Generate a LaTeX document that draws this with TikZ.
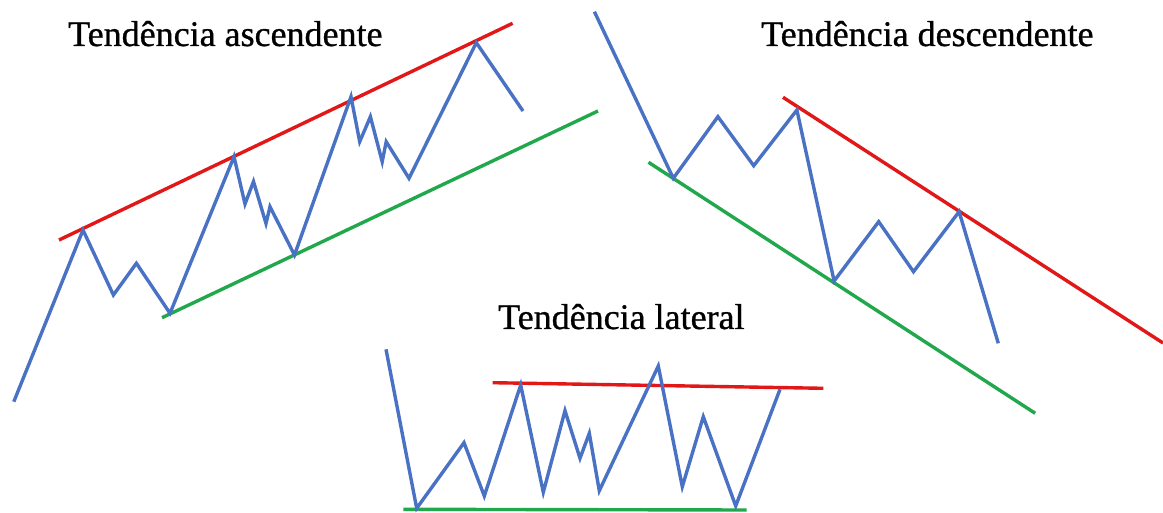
\documentclass[tikz,border=0pt]{standalone}
\usepackage{fontspec}
\setmainfont{Liberation Serif}
\newfontfamily\titlefont[FakeBold=0.8]{Liberation Serif}
\definecolor{pblue}{RGB}{74,114,196}
\definecolor{pred}{RGB}{226,24,24}
\definecolor{pgreen}{RGB}{34,168,76}
\begin{document}
\begin{tikzpicture}[x=1pt,y=-1pt,
  price/.style={draw=pblue,line width=3.4pt,line join=miter,line cap=butt},
  resist/.style={draw=pred,line width=3.4pt},
  support/.style={draw=pgreen,line width=3.4pt},
  title/.style={font=\titlefont\fontsize{36}{40}\selectfont,inner sep=0pt,anchor=base west}]
\useasboundingbox[fill=white] (0,0) rectangle (1163,513);
% titles
\node[title] (tasc) at (68,46) {Tendência ascendente};
\node[title] (tdesc) at (761,46) {Tendência descendente};
\node[title] (tlat) at (498,329) {Tendência lateral};
% ascending
\draw[resist] (59,240) -- (512.6,23.3);
\draw[support] (162,317.7) -- (598,111);
\draw[price] (13.8,401.7) -- (83,230) -- (113.4,295) -- (136.4,263.3) -- (170,313.3)
  -- (234,156.7) -- (245,204) -- (253.5,181.5) -- (266,223.5) -- (270,206.7)
  -- (294.5,255) -- (351,96.7) -- (359.7,141.7) -- (370.4,116.7) -- (382.2,161.7)
  -- (386.2,141.7) -- (409,178.3) -- (476.3,42.7) -- (523,111);
% descending
\draw[resist] (783,97.3) -- (1163,343);
\draw[support] (648.5,162.3) -- (1035.2,413.3);
\draw[price] (594.4,11.7) -- (673.3,178.3) -- (717.9,116.7) -- (753.7,165.7)
  -- (796.9,110) -- (834.1,281) -- (878.7,221.7) -- (913.5,271.7)
  -- (959.1,211.7) -- (998.3,343.3);
% lateral
\draw[resist] (492.7,382.7) -- (823.3,388.3);
\draw[support] (403.3,509.3) -- (746.7,510);
\draw[price] (386,349.3) -- (416.7,508.3) -- (464,442.7) -- (484.3,496)
  -- (520.7,385) -- (543.3,492.3) -- (565,410.7) -- (580,458.3) -- (589.3,433.3)
  -- (599.3,490.7) -- (658.3,366) -- (682.3,486.7) -- (703.3,416.7)
  -- (735.7,506) -- (780,389.3);
\end{tikzpicture}
\end{document}
